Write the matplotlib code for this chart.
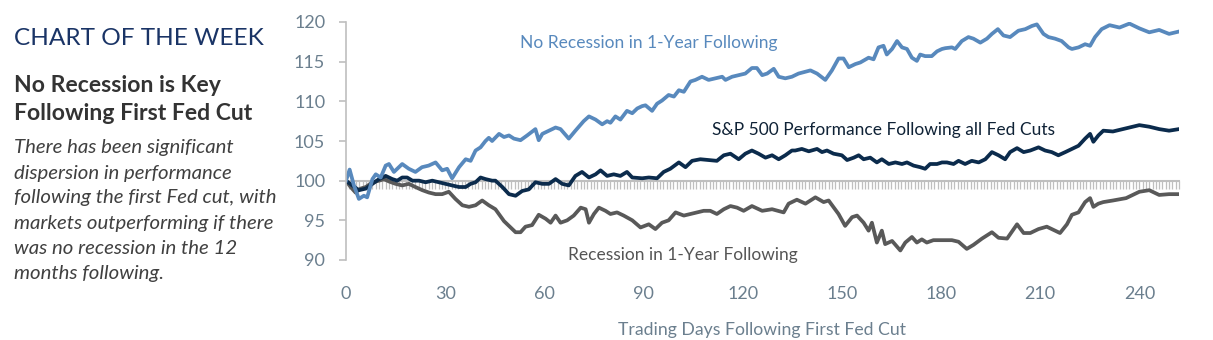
import matplotlib
matplotlib.use("Agg")
import matplotlib.pyplot as plt
from matplotlib.ticker import MultipleLocator

plt.rcParams['font.family'] = ['Lato', 'DejaVu Sans']

# trading days after the first cut and index level (start = 100)
no_rec_days = [0, 1.1, 2.4, 3.9, 5.4, 6.4, 8, 9, 10.5, 12, 13, 14.5, 17, 19, 21, 23, 25,
               27.1, 29.1, 30.6, 32.1, 34.2, 36.2, 37.7, 39.2, 40.7, 42.2, 43.2, 44.2,
               46.3, 47.8, 49.3, 50.8, 52.8, 54.8, 57.3, 58.3, 59.4, 61.4, 63.4, 64.9,
               67.4, 69.4, 71.9, 73.5, 75.5, 77.5, 79, 80, 81.5, 83, 85, 86.6, 88.1, 89.6,
               90.6, 92.6, 94.1, 95.6, 97.6, 99.2, 100.7, 102.2, 104.2, 105.7, 107.7,
               109.7, 111.7, 113.8, 114.8, 116.8, 118.8, 120.8, 122.8, 124.3, 125.9,
               127.4, 129.4, 130.9, 132.9, 134.9, 136.9, 140.5, 142.5, 145, 147, 149,
               150.5, 152.1, 154.1, 155.6, 158.1, 159.6, 161.1, 162.6, 163.6, 165.2,
               166.7, 168.2, 169.7, 171.2, 172.7, 173.7, 175.2, 177.2, 178.8, 180.3,
               181.3, 183.3, 184.3, 186.3, 188.3, 189.8, 191.9, 193.9, 195.4, 197.2,
               198.9, 200.9, 203.4, 205.5, 207.5, 209, 211, 212.5, 214.5, 216.5, 218.6,
               219.6, 221.6, 223.6, 225.1, 226.6, 228.6, 231, 234, 237, 240, 243, 246,
               249, 252]
no_rec_vals = [100, 101.4, 99.4, 97.7, 98.1, 97.9, 100.2, 100.8, 100.4, 101.9, 102.1, 101.1,
               102.1, 101.5, 101.1, 101.7, 101.9, 102.3, 101.3, 101.5, 100.3, 101.7, 102.7,
               102.5, 103.8, 104.2, 105.0, 105.4, 105.0, 105.9, 105.5, 105.7, 105.3, 105.1,
               105.7, 106.5, 105.1, 105.9, 106.3, 106.7, 106.5, 105.3, 106.3, 107.5, 108.1,
               107.7, 107.1, 107.5, 107.3, 108.1, 107.7, 108.8, 108.5, 109.1, 109.4, 109.5,
               108.8, 109.7, 110.1, 110.8, 110.6, 111.4, 111.2, 112.5, 112.7, 113.1, 112.7,
               112.9, 113.1, 112.7, 113.1, 113.3, 113.5, 114.2, 114.2, 113.3, 113.5, 114.1,
               113.1, 112.9, 113.1, 113.5, 113.9, 113.5, 112.7, 113.9, 115.4, 115.4, 114.3,
               114.7, 114.9, 115.5, 115.3, 116.8, 117.0, 115.9, 116.6, 117.6, 116.8, 116.6,
               115.5, 115.1, 115.9, 115.7, 115.7, 116.3, 116.6, 116.7, 116.8, 116.6, 117.6,
               118.1, 117.9, 117.4, 117.9, 118.5, 119.1, 118.3, 118.1, 118.9, 119.1, 119.5,
               119.7, 118.5, 118.1, 117.9, 117.6, 116.8, 116.6, 116.8, 117.2, 117.0, 118.1,
               119.1, 119.6, 119.3, 119.8, 119.2, 118.7, 119.0, 118.5, 118.8]

all_days = [0, 1.9, 3.9, 6, 8, 10, 12, 14, 15.5, 17, 18.5, 20.1, 22.1, 24.1, 26.1, 28.1,
            30.1, 32.1, 34.2, 36.2, 37.7, 39.2, 40.7, 42.2, 44.2, 45.2, 47.3, 49.3, 51.3,
            53.3, 55.3, 57.3, 59.4, 61.4, 63.4, 65.4, 67.4, 69.4, 71.4, 73.5, 75.5, 77,
            79, 81, 83, 85, 86.6, 89.6, 91.6, 94.1, 96.1, 98.1, 100.7, 102.7, 104.7, 107.2,
            109.7, 112.2, 114.3, 116.3, 118.8, 120.8, 122.8, 124.8, 126.9, 128.9, 130.9,
            132.9, 134.9, 135.9, 137.9, 140, 142.5, 144, 145.5, 147.5, 150, 151.6, 153.6,
            155.1, 156.6, 158.6, 160.6, 162.1, 164.2, 166.2, 168.2, 169.7, 171.7, 173.7,
            175.2, 176.7, 178.8, 180.3, 181.8, 183.8, 185.3, 187.3, 189.3, 191.4, 193.4,
            195.4, 197.4, 199.4, 200.9, 203, 205, 207, 209.5, 211.5, 213.5, 215.5, 217.6,
            219.6, 221.6, 223.6, 225.1, 226.1, 227.6, 229.1, 232, 236, 240, 243, 246, 249,
            252]
all_vals = [100, 99.4, 98.8, 99.0, 99.6, 100.2, 100.6, 100.2, 100.0, 100.4, 100.4, 100.0,
            100.0, 99.8, 100.0, 99.8, 99.6, 99.4, 99.2, 99.2, 99.6, 99.8, 100.4, 100.2, 100.0,
            100.0, 99.2, 98.3, 98.1, 98.7, 98.9, 99.8, 99.6, 99.6, 100.2, 99.6, 99.4, 100.6,
            101.1, 100.4, 100.8, 101.3, 100.6, 100.8, 100.6, 101.1, 100.4, 100.3, 100.4,
            100.3, 101.1, 101.5, 102.3, 101.7, 102.5, 102.7, 102.6, 102.5, 103.2, 103.4,
            102.7, 103.4, 103.8, 103.4, 102.9, 103.2, 102.7, 103.2, 103.8, 103.8, 104.0,
            103.7, 104.0, 103.6, 103.8, 103.4, 103.2, 102.6, 102.9, 103.2, 102.7, 102.9,
            102.3, 102.7, 102.1, 102.3, 102.1, 102.3, 101.9, 101.7, 101.5, 102.1, 102.1,
            102.3, 102.3, 102.1, 102.5, 102.1, 102.5, 102.3, 102.7, 103.6, 103.2, 102.7,
            103.6, 104.1, 103.6, 103.8, 104.2, 103.8, 103.6, 103.2, 103.6, 104.0, 104.4,
            105.3, 105.9, 104.9, 105.7, 106.3, 106.2, 106.6, 107.0, 106.8, 106.5, 106.3,
            106.5]

rec_days = [0, 1.4, 2.9, 4.4, 6, 8, 10, 11.5, 13, 15, 17, 19, 21, 23.1, 25.1, 27.1, 29.1,
            31.1, 33.1, 35.2, 37.2, 39.2, 41.2, 43.2, 45.2, 47.8, 49.8, 51.3, 52.8, 54.3,
            56.3, 58.3, 60.4, 61.9, 63.4, 64.9, 66.9, 68.9, 71, 72.5, 73.5, 75, 76.5, 78.5,
            80, 82, 84, 86.6, 89.1, 91.6, 93.6, 95.6, 97.6, 99.7, 102.2, 104.2, 106.2,
            108.2, 110.2, 112.2, 114.3, 116.3, 118.3, 120.3, 122.8, 125.9, 128.9, 132.4,
            133.9, 136.4, 139, 142, 144.5, 146, 149, 151, 153.1, 154.6, 156.6, 158.1,
            159.1, 160.6, 162.1, 163.1, 165.2, 167.7, 169.2, 171.2, 172.7, 174.2, 175.7,
            177.7, 180.3, 183.3, 185.3, 187.8, 189.8, 192.4, 195.4, 197.4, 200, 203, 205,
            207, 209.5, 212, 214, 216, 218.1, 219.6, 221.6, 223.6, 225.1, 226.1, 227.6,
            229.1, 232, 236, 240, 243, 246, 249, 252]
rec_vals = [100, 99.2, 98.5, 99.0, 99.2, 99.8, 100.0, 100.2, 99.9, 99.6, 99.4, 99.6, 99.2,
            98.8, 98.5, 98.3, 98.3, 98.6, 97.7, 96.9, 96.7, 96.9, 97.5, 96.9, 96.4, 94.9,
            94.1, 93.5, 93.5, 94.2, 94.4, 95.7, 95.2, 94.7, 95.6, 94.7, 95.0, 95.6, 96.6,
            96.4, 94.7, 95.8, 96.6, 96.2, 95.8, 96.0, 95.6, 95.0, 94.1, 94.5, 93.9, 94.7,
            95.0, 96.0, 95.6, 95.8, 96.0, 96.2, 96.2, 95.8, 96.4, 96.8, 96.6, 96.2, 96.8,
            96.2, 96.4, 96.0, 97.1, 97.6, 97.1, 97.9, 97.3, 97.5, 95.8, 94.3, 95.4, 95.6,
            94.7, 93.7, 94.7, 92.2, 93.7, 92.0, 92.4, 91.2, 92.2, 92.9, 92.2, 92.6, 92.2,
            92.5, 92.5, 92.5, 92.3, 91.4, 91.9, 92.7, 93.5, 92.8, 92.7, 94.5, 93.4, 93.4,
            93.9, 94.2, 93.8, 93.4, 94.5, 95.7, 96.0, 97.3, 97.8, 96.7, 97.1, 97.3, 97.5,
            97.8, 98.6, 98.8, 98.2, 98.3, 98.3]

x_ticks = [0, 30, 60, 90, 120, 150, 180, 210, 240]
y_ticks = [90, 95, 100, 105, 110, 115, 120]

BLUE = '#5889bd'
NAVY = '#0b2b4c'
GRAY = '#595959'
SLATE = '#6b7f8e'
AXIS = '#bfbfbf'

W, H = 1213, 340
fig = plt.figure(figsize=(W / 100, H / 100), dpi=100)

x0, x1, y_top, y_bot = 346, 1179, 22, 260
ax = fig.add_axes([x0 / W, 1 - y_bot / H, (x1 - x0) / W, (y_bot - y_top) / H])

ax.plot(rec_days, rec_vals, color=GRAY, lw=2.7, solid_joinstyle='round')
ax.plot(all_days, all_vals, color=NAVY, lw=2.7, solid_joinstyle='round')
ax.plot(no_rec_days, no_rec_vals, color=BLUE, lw=2.7, solid_joinstyle='round')

ax.set_xlim(0, 252)
ax.set_ylim(90, 120)
ax.set_yticks(y_ticks)
ax.set_xticks(x_ticks)

for s in ['top', 'right', 'bottom']:
    ax.spines[s].set_visible(False)
ax.spines['left'].set_color(AXIS)
ax.spines['left'].set_linewidth(1.2)
ax.tick_params(axis='y', length=5, width=1.2, color=AXIS, pad=10,
               labelsize=13, labelcolor=SLATE)
ax.tick_params(axis='x', length=0, pad=19, labelsize=13, labelcolor=SLATE)

# category axis crossing at 100 with a tick for every day
mid = ax.secondary_xaxis((100 - 90) / 30)
mid.xaxis.set_major_locator(MultipleLocator(1))
mid.tick_params(axis='x', length=6, width=0.9, color=AXIS, labelbottom=False,
                direction='out')
mid.spines['bottom'].set_color(AXIS)
mid.spines['bottom'].set_linewidth(1.5)

ax.set_xlabel('Trading Days Following First Fed Cut', fontsize=12.7, color=SLATE,
              labelpad=14)

def px(x, y):
    return x / W, 1 - y / H

fig.text(*px(520, 48), 'No Recession in 1-Year Following', color=BLUE,
         fontsize=12.5, va='baseline')
fig.text(*px(712, 135), 'S&P 500 Performance Following all Fed Cuts', color='#0f2236',
         fontsize=12.5, va='baseline')
fig.text(*px(568, 260), 'Recession in 1-Year Following', color='#555555',
         fontsize=12.5, va='baseline')

# left hand commentary
fig.text(*px(14, 45), 'CHART OF THE WEEK', color='#1a3466', fontsize=17.6,
         va='baseline')
fig.text(*px(14, 92), 'No Recession is Key', color='#333333', fontsize=16.6,
         fontweight='bold', va='baseline')
fig.text(*px(14, 119.5), 'Following First Fed Cut', color='#333333', fontsize=16.6,
         fontweight='bold', va='baseline')
body = ['There has been significant',
        'dispersion in performance',
        'following the first Fed cut, with',
        'markets outperforming if there',
        'was no recession in the 12',
        'months following.']
for i, line in enumerate(body):
    fig.text(*px(14, 153.5 + 25 * i), line, color='#404040', fontsize=14.7,
             style='italic', va='baseline')

fig.savefig('out.png', dpi=100)
